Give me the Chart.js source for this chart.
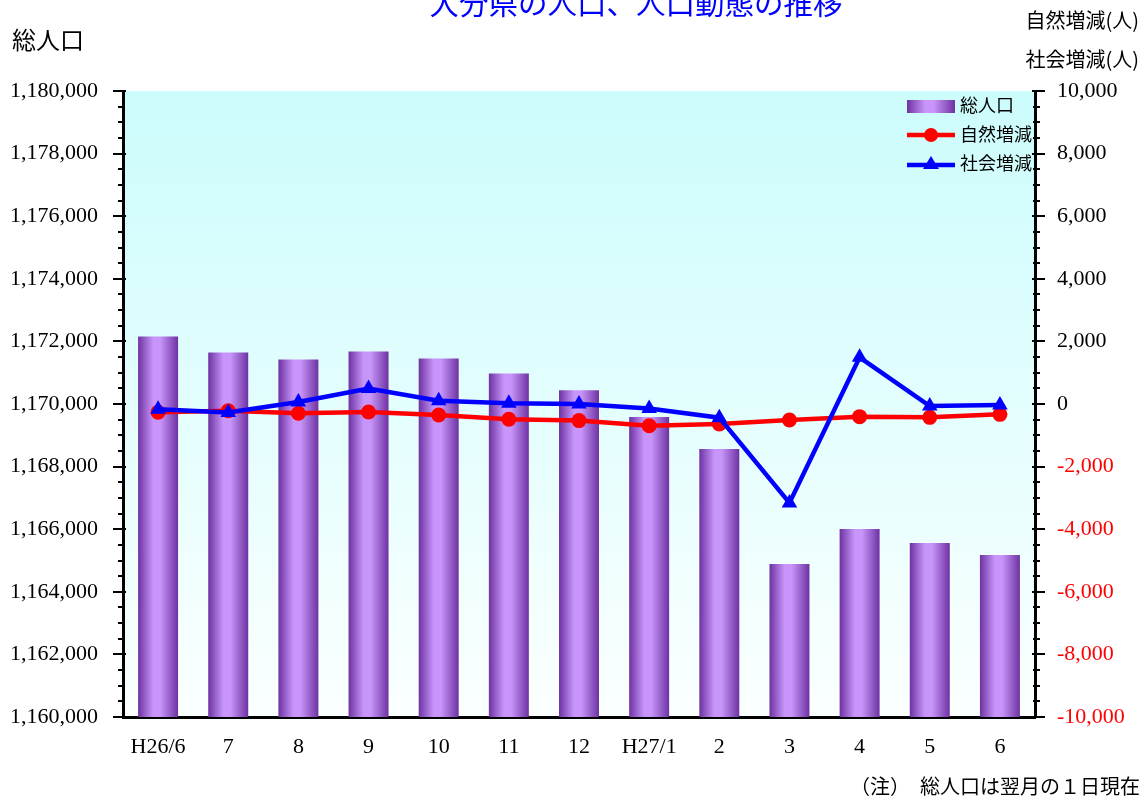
<!DOCTYPE html>
<html>
<head>
<meta charset="utf-8">
<script src="https://cdn.jsdelivr.net/npm/chart.js@4/dist/chart.umd.min.js"></script>
<style>
  html, body { margin: 0; padding: 0; background: #ffffff; }
  #wrap { width: 1141px; height: 796px; position: relative; }
</style>
</head>
<body>
<div id="wrap"><canvas id="c"></canvas></div>
<script>
// ---- data ----
const categories = ['H26/6','7','8','9','10','11','12','H27/1','2','3','4','5','6'];
const totalPopulation = [1172160, 1171645, 1171420, 1171675, 1171450, 1170975, 1170440, 1169582, 1168563, 1164888, 1166006, 1165559, 1165176];
const naturalChange = [-260, -215, -295, -255, -350, -486, -530, -695, -638, -511, -404, -426, -330];
const socialChange = [-169, -270, 63, 497, 106, 21, 0, -143, -436, -3160, 1490, -64, -32];
const seriesNames = ['総人口', '自然増減', '社会増減'];
const titleText = '大分県の人口、人口動態の推移';
const leftAxisTitle = '総人口';
const rightAxisTitles = ['自然増減(人)', '社会増減(人)'];
const noteText = '（注）　総人口は翌月の１日現在';

const SERIF = '"Liberation Serif", "Times New Roman", serif';
const SANS = '"Noto Sans CJK JP", "Noto Sans", sans-serif';
const BAR_FRACTION = 0.57;

function barGradient(ctx, x0, x1) {
  const g = ctx.createLinearGradient(x0, 0, x1, 0);
  g.addColorStop(0, '#6e32a2');
  g.addColorStop(0.38, '#c896fa');
  g.addColorStop(0.55, '#c896fa');
  g.addColorStop(1, '#6e32a2');
  return g;
}

const bgPlugin = {
  id: 'bg',
  beforeDraw(chart) {
    const { ctx, chartArea: a } = chart;
    ctx.save();
    ctx.fillStyle = '#ffffff';
    ctx.fillRect(0, 0, chart.width, chart.height);
    const g = ctx.createLinearGradient(0, a.top, 0, a.bottom);
    g.addColorStop(0, '#ccfcfc');
    g.addColorStop(1, '#fbffff');
    ctx.fillStyle = g;
    ctx.fillRect(a.left, a.top, a.right - a.left, a.bottom - a.top);
    ctx.restore();
  }
};

const ticksPlugin = {
  id: 'minorTicks',
  afterDraw(chart) {
    const { ctx, chartArea: a } = chart;
    ctx.save();
    ctx.strokeStyle = '#000';
    ctx.lineWidth = 2;
    const yl = chart.scales.y, yr = chart.scales.y1;
    for (let v = yl.min; v <= yl.max + 1; v += 500) {
      const p = Math.round(yl.getPixelForValue(v));
      const major = (Math.round(v) % 2000) === 0;
      ctx.beginPath();
      ctx.moveTo(a.left - (major ? 10 : 5), p);
      ctx.lineTo(a.left + (major ? 3 : 2), p);
      ctx.stroke();
    }
    for (let v = yr.min; v <= yr.max + 1; v += 500) {
      const p = Math.round(yr.getPixelForValue(v));
      const major = (Math.round(v) % 2000) === 0;
      ctx.beginPath();
      ctx.moveTo(a.right - (major ? 3 : 2), p);
      ctx.lineTo(a.right + (major ? 10 : 5), p);
      ctx.stroke();
    }
    ctx.restore();
  }
};

const textPlugin = {
  id: 'texts',
  afterDraw(chart) {
    const { ctx } = chart;
    ctx.save();
    // title (partly cut at top)
    ctx.fillStyle = '#0000ff';
    ctx.font = '29.5px ' + SANS;
    ctx.textAlign = 'center';
    ctx.textBaseline = 'alphabetic';
    ctx.fillText(titleText, 636, 14);
    // left axis title
    ctx.fillStyle = '#000';
    ctx.font = '24px ' + SANS;
    ctx.textAlign = 'left';
    ctx.textBaseline = 'middle';
    ctx.fillText(leftAxisTitle, 12, 40);
    // right axis titles
    ctx.font = '20px ' + SANS;
    ctx.textAlign = 'right';
    ctx.fillText(rightAxisTitles[0], 1139, 20);
    ctx.fillText(rightAxisTitles[1], 1139, 59);
    // note
    ctx.font = '20px ' + SANS;
    ctx.textAlign = 'left';
    ctx.fillText(noteText, 850, 786);
    // legend
    const lx = 907, lw = 48;
    ctx.font = '18px ' + SANS;
    ctx.textAlign = 'left';
    ctx.textBaseline = 'middle';
    // bar sample
    ctx.fillStyle = barGradient(ctx, lx, lx + lw);
    ctx.fillRect(lx, 100, lw, 13);
    ctx.fillStyle = '#000';
    ctx.fillText(chart.data.datasets[0].label, 960, 105);
    // red line sample
    ctx.strokeStyle = '#ff0000';
    ctx.lineWidth = 4.5;
    ctx.beginPath(); ctx.moveTo(lx, 135); ctx.lineTo(lx + lw, 135); ctx.stroke();
    ctx.fillStyle = '#ff0000';
    ctx.beginPath(); ctx.arc(lx + lw / 2, 135, 7, 0, Math.PI * 2); ctx.fill();
    ctx.fillStyle = '#000';
    ctx.fillText(chart.data.datasets[1].label, 960, 134);
    // blue line sample
    ctx.strokeStyle = '#0000ff';
    ctx.beginPath(); ctx.moveTo(lx, 165); ctx.lineTo(lx + lw, 165); ctx.stroke();
    ctx.fillStyle = '#0000ff';
    const tx = lx + lw / 2;
    ctx.beginPath(); ctx.moveTo(tx, 156); ctx.lineTo(tx + 8, 169); ctx.lineTo(tx - 8, 169); ctx.closePath(); ctx.fill();
    ctx.fillStyle = '#000';
    ctx.fillText(chart.data.datasets[2].label, 960, 163);
    ctx.restore();
  }
};

const chart = new Chart(document.getElementById('c'), {
  data: {
    labels: categories,
    datasets: [
      {
        type: 'bar',
        label: seriesNames[0],
        data: totalPopulation,
        yAxisID: 'y',
        order: 3,
        categoryPercentage: 1,
        barPercentage: BAR_FRACTION,
        borderWidth: 0,
        backgroundColor: (c) => {
          const ch = c.chart, xs = ch.scales.x;
          if (!xs || c.type !== 'data' || !xs.width) return '#a070d8';
          const cx = xs.getPixelForValue(c.dataIndex);
          const half = (xs.width / categories.length) * BAR_FRACTION / 2;
          return barGradient(ch.ctx, cx - half, cx + half);
        }
      },
      {
        type: 'line',
        label: seriesNames[1],
        data: naturalChange,
        yAxisID: 'y1',
        order: 2,
        borderColor: '#ff0000',
        backgroundColor: '#ff0000',
        borderWidth: 4.5,
        pointStyle: 'circle',
        pointRadius: 7.5,
        pointBorderWidth: 0,
        pointBackgroundColor: '#ff0000',
        tension: 0
      },
      {
        type: 'line',
        label: seriesNames[2],
        data: socialChange,
        yAxisID: 'y1',
        order: 1,
        borderColor: '#0000ff',
        backgroundColor: '#0000ff',
        borderWidth: 4.5,
        pointStyle: 'triangle',
        pointRadius: 9,
        pointBorderWidth: 0,
        pointBackgroundColor: '#0000ff',
        tension: 0
      }
    ]
  },
  options: {
    responsive: true,
    maintainAspectRatio: false,
    animation: false,
    layout: { padding: { top: 91, left: 0, right: 0, bottom: 0 } },
    plugins: {
      legend: { display: false },
      title: { display: false },
      tooltip: { enabled: false }
    },
    scales: {
      x: {
        type: 'category',
        offset: true,
        grid: { display: false, drawTicks: false },
        border: { display: true, color: '#000', width: 3 },
        ticks: {
          color: '#000',
          font: { family: SERIF, size: 22 },
          padding: 17,
          maxRotation: 0,
          autoSkip: false
        },
        afterFit(s) { s.height = 79; }
      },
      y: {
        type: 'linear',
        position: 'left',
        min: 1160000,
        max: 1180000,
        grid: { display: false, drawTicks: false },
        border: { display: true, color: '#000', width: 3 },
        ticks: {
          stepSize: 2000,
          color: '#000',
          padding: 25,
          font: { family: SERIF, size: 22 },
          callback: (v) => v.toLocaleString('en-US')
        },
        afterFit(s) { s.width = 123; }
      },
      y1: {
        type: 'linear',
        position: 'right',
        min: -10000,
        max: 10000,
        grid: { display: false, drawTicks: false },
        border: { display: true, color: '#000', width: 3 },
        ticks: {
          stepSize: 2000,
          padding: 22,
          font: { family: SERIF, size: 22 },
          color: (c) => (c.tick && c.tick.value < 0) ? '#ff0000' : '#000',
          callback: (v) => v.toLocaleString('en-US')
        },
        afterFit(s) { s.width = 106; }
      }
    }
  },
  plugins: [bgPlugin, ticksPlugin, textPlugin]
});
</script>
</body>
</html>
